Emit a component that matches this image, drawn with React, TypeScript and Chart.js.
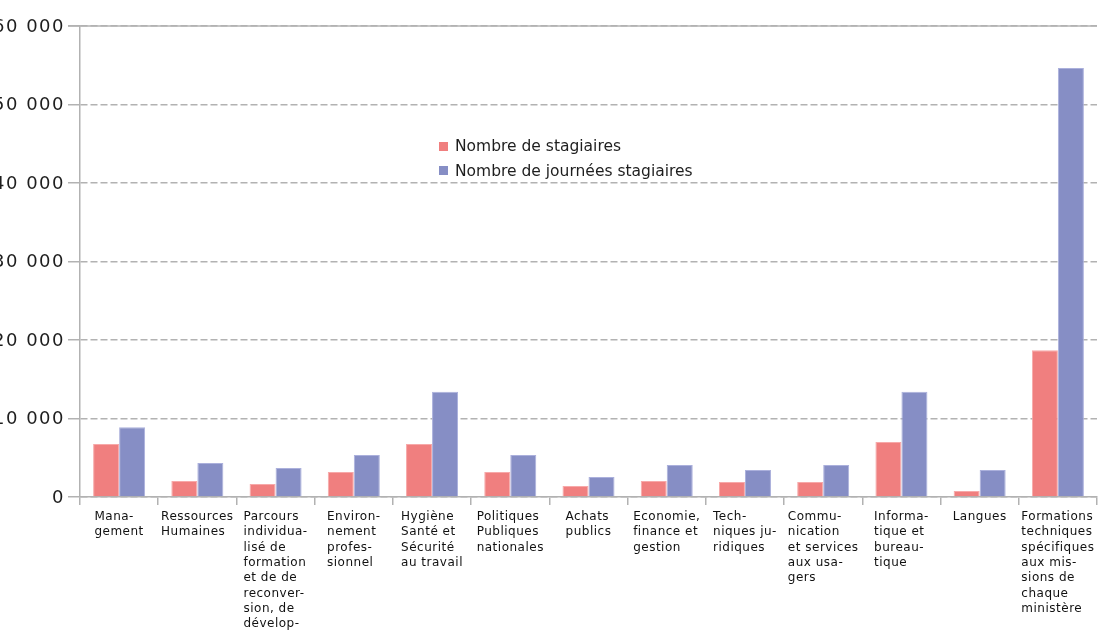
import React, { useEffect, useRef } from "react";
import { Chart, registerables } from "chart.js";

Chart.register(...registerables);

const categories: string[][] = [
  ["Mana-", "gement"],
  ["Ressources", "Humaines"],
  ["Parcours", "individua-", "lisé de", "formation", "et de de", "reconver-", "sion, de", "dévelop-"],
  ["Environ-", "nement", "profes-", "sionnel"],
  ["Hygiène", "Santé et", "Sécurité", "au travail"],
  ["Politiques", "Publiques", "nationales"],
  ["Achats", "publics"],
  ["Economie,", "finance et", "gestion"],
  ["Tech-", "niques ju-", "ridiques"],
  ["Commu-", "nication", "et services", "aux usa-", "gers"],
  ["Informa-", "tique et", "bureau-", "tique"],
  ["Langues"],
  ["Formations", "techniques", "spécifiques", "aux mis-", "sions de", "chaque", "ministère"],
];

const stagiaires = [6750, 2040, 1650, 3180, 6750, 3180, 1400, 2040, 1900, 1900, 7000, 760, 18700];
const journees = [8900, 4330, 3700, 5350, 13400, 5350, 2550, 4080, 3440, 4080, 13400, 3440, 54650];

const seriesNames = ["Nombre de stagiaires", "Nombre de journées stagiaires"];
const seriesColors = ["#F07F7F", "#868EC5"];
const seriesBorders = ["#F7A9A9", "#ABB0DC"];

const yMin = 0;
const yMax = 60000;
const yStep = 10000;

const GRID = "#b2b2b2";
const CANVAS_H = 660;
const PLOT_BOTTOM = 497;

const fmt = (v: number) => String(v).replace(/\B(?=(\d{3})+(?!\d))/g, " ");

const labelPlugin = {
  id: "customLabels",
  afterDraw(chart: any) {
    const { ctx, chartArea } = chart;
    const xs = chart.scales.x;
    const ys = chart.scales.y;
    ctx.save();
    // solid top border
    ctx.strokeStyle = GRID;
    ctx.lineWidth = 1.5;
    ctx.beginPath();
    ctx.moveTo(chartArea.left - 12, chartArea.top);
    ctx.lineTo(chartArea.right, chartArea.top);
    ctx.stroke();

    // y tick labels, right-aligned left of the tick marks
    ctx.font = '18px "DejaVu Sans"';
    (ctx as any).letterSpacing = "1.5px";
    ctx.fillStyle = "#1e1e1e";
    ctx.textAlign = "right";
    ctx.textBaseline = "middle";
    ys.ticks.forEach((t: any) => {
      const y = ys.getPixelForValue(t.value);
      ctx.fillText(fmt(t.value), chartArea.left - 15, y + 1);
    });

    // category labels: centred block, left-aligned lines
    ctx.font = '12px "DejaVu Sans"';
    (ctx as any).letterSpacing = "0.5px";
    ctx.fillStyle = "#111";
    ctx.textAlign = "left";
    ctx.textBaseline = "top";
    const lh = 15.3;
    categories.forEach((lines, i) => {
      const cx = xs.getPixelForValue(i);
      let maxW = 0;
      lines.forEach((l) => {
        maxW = Math.max(maxW, ctx.measureText(l).width);
      });
      const left = cx - maxW / 2;
      lines.forEach((l, j) => {
        ctx.fillText(l, left, xs.top + 14 + j * lh);
      });
    });
    ctx.restore();
  },
};

export default function App() {
  const ref = useRef<HTMLCanvasElement>(null);

  useEffect(() => {
    if (!ref.current) return;
    const chart = new Chart(ref.current, {
      type: "bar",
      data: {
        labels: categories.map((c) => c.join(" ")),
        datasets: [
          {
            label: seriesNames[0],
            data: stagiaires,
            backgroundColor: seriesColors[0],
            borderColor: seriesBorders[0],
            borderWidth: 1,
            categoryPercentage: 0.665,
            barPercentage: 1,
          },
          {
            label: seriesNames[1],
            data: journees,
            backgroundColor: seriesColors[1],
            borderColor: seriesBorders[1],
            borderWidth: 1,
            categoryPercentage: 0.665,
            barPercentage: 1,
          },
        ],
      },
      options: {
        animation: false,
        responsive: true,
        maintainAspectRatio: false,
        layout: { padding: { top: 26, right: 2, left: 0, bottom: 0 } },
        plugins: { legend: { display: false }, tooltip: { enabled: false } },
        scales: {
          x: {
            type: "category",
            offset: true,
            grid: {
              offset: true,
              drawOnChartArea: false,
              drawTicks: true,
              tickLength: 8,
              color: GRID,
              lineWidth: 1.5,
            },
            border: { color: GRID, width: 1.5 },
            ticks: { display: false },
            afterFit: (scale: any) => {
              scale.height = CANVAS_H - PLOT_BOTTOM;
            },
          },
          y: {
            min: yMin,
            max: yMax,
            ticks: { stepSize: yStep, display: false },
            grid: {
              color: GRID,
              lineWidth: 1.5,
              drawTicks: true,
              tickLength: 12,
              tickColor: GRID,
              tickBorderDash: [],
            },
            border: { color: GRID, width: 1.5, dash: [7, 3] },
            afterFit: (scale: any) => {
              scale.width = 80;
            },
          },
        },
      },
      plugins: [labelPlugin],
    } as any);
    return () => chart.destroy();
  }, []);

  return (
    <div
      style={{
        position: "fixed",
        left: 0,
        top: 0,
        width: 1099,
        height: 633,
        overflow: "hidden",
        background: "#fff",
      }}
    >
      <div style={{ position: "absolute", left: 0, top: 0, width: 1099, height: CANVAS_H }}>
        <canvas ref={ref} />
      </div>
      {seriesNames.map((name, i) => (
        <div
          key={name}
          style={{
            position: "absolute",
            left: 439,
            top: 137 + i * 24.5,
            height: 18,
            display: "flex",
            alignItems: "center",
            fontFamily: '"DejaVu Sans"',
            fontSize: 15.5,
            color: "#1e1e1e",
            whiteSpace: "nowrap",
          }}
        >
          <span
            style={{
              display: "inline-block",
              width: 9,
              height: 9,
              background: seriesColors[i],
              marginRight: 7,
            }}
          />
          {name}
        </div>
      ))}
    </div>
  );
}
